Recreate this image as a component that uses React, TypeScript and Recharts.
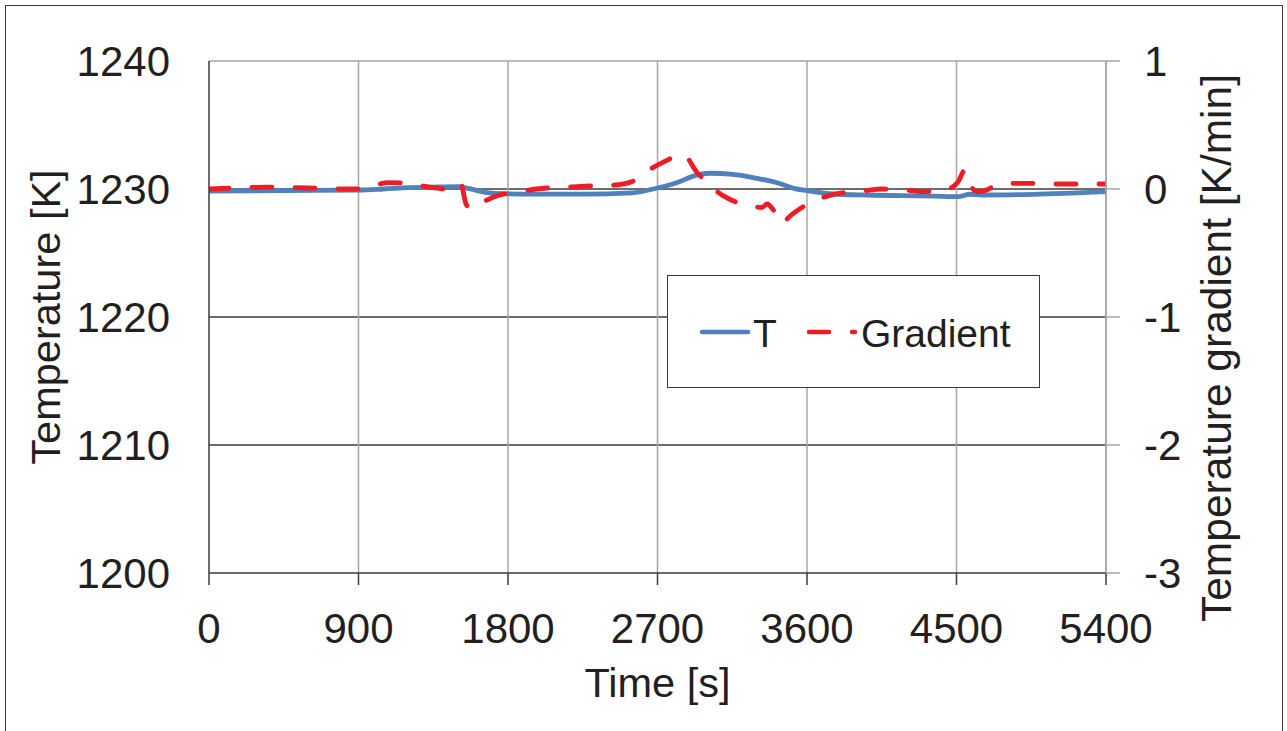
import { LineChart, Line, XAxis, YAxis, CartesianGrid, Legend, Label, ReferenceLine } from 'recharts';

// Temperature history (s, K)
const tempTime = [0, 450, 900, 1050, 1200, 1350, 1500, 1560, 1640, 1720, 1950, 2250, 2550, 2680, 2815, 2935, 3015, 3155, 3300, 3420, 3520, 3600, 3760, 3960, 4360, 4510, 4580, 4660, 4960, 5400];
const tempValues = [1229.84, 1229.88, 1229.92, 1230.0, 1230.1, 1230.15, 1230.18, 1230.05, 1229.8, 1229.66, 1229.6, 1229.6, 1229.7, 1230.02, 1230.49, 1231.09, 1231.23, 1231.15, 1230.83, 1230.49, 1230.05, 1229.87, 1229.61, 1229.53, 1229.45, 1229.4, 1229.59, 1229.53, 1229.58, 1229.79];

// Temperature gradient (s, K/min)
const gradTime = [0, 200, 350, 450, 600, 750, 880, 980, 1080, 1200, 1310, 1430, 1480, 1515, 1550, 1590, 1640, 1750, 1840, 1970, 2215, 2330, 2435, 2545, 2625, 2735, 2855, 2935, 3005, 3105, 3210, 3330, 3360, 3395, 3440, 3510, 3620, 3710, 3830, 3930, 4050, 4190, 4320, 4420, 4510, 4550, 4595, 4630, 4670, 4760, 4870, 5000, 5100, 5400];
const gradValues = [0, 0.01, 0.015, 0.013, 0.008, 0.002, 0, 0.023, 0.05, 0.045, 0.018, 0, 0.01, 0.045, -0.125, -0.156, -0.11, -0.047, -0.029, 0, 0.018, 0.026, 0.031, 0.057, 0.13, 0.21, 0.27, 0.135, 0.04, -0.06, -0.117, -0.143, -0.117, -0.159, -0.268, -0.198, -0.107, -0.06, -0.026, -0.016, 0, -0.008, -0.021, -0.013, 0.057, 0.148, 0.005, -0.021, -0.013, 0.039, 0.044, 0.044, 0.039, 0.039];

const timeTicks = [0, 900, 1800, 2700, 3600, 4500, 5400];
const tempTicks = [1200, 1210, 1220, 1230, 1240];
const gradTicks = [-3, -2, -1, 0, 1];

const tempData = tempTime.map((t, i) => ({ t, T: tempValues[i] }));
const gradData = gradTime.map((t, i) => ({ t, G: gradValues[i] }));

const FONT = '"Liberation Sans", Arial, sans-serif';
const INK = '#231f20';
const BLUE = '#4f81bd';
const RED = '#ee1c25';

const LeftTitle = (props: any) => {
  const vb = props.viewBox;
  const x = vb.x + 45;
  const y = vb.y + vb.height / 2;
  return (
    <text x={x} y={y} transform={`rotate(-90 ${x} ${y})`} textAnchor="middle" dominantBaseline="central"
      fontFamily={FONT} fontSize={41.5} fill={INK}>Temperature [K]</text>
  );
};

const RightTitle = (props: any) => {
  const vb = props.viewBox;
  const x = vb.x + 110;
  const y = vb.y + vb.height / 2 + 31;
  return (
    <text x={x} y={y} transform={`rotate(-90 ${x} ${y})`} textAnchor="middle" dominantBaseline="central"
      fontFamily={FONT} fontSize={42.5} fill={INK}>Temperature gradient [K/min]</text>
  );
};

const BottomTitle = (props: any) => {
  const vb = props.viewBox;
  return (
    <text x={vb.x + vb.width / 2} y={vb.y + 124} textAnchor="middle"
      fontFamily={FONT} fontSize={41.5} fill={INK}>Time [s]</text>
  );
};

const LegendBox = () => (
  <div style={{ width: 373, height: 113, border: '1.5px solid #3a3a3a', boxSizing: 'border-box', background: '#fff' }}>
    <svg width={370} height={110} style={{ display: 'block' }}>
      <line x1={34} y1={56} x2={80} y2={56} stroke={BLUE} strokeWidth={4.5} strokeLinecap="round" />
      <text x={85} y={71} fontFamily={FONT} fontSize={39} fill={INK}>T</text>
      <line x1={141} y1={56} x2={187} y2={56} stroke={RED} strokeWidth={4.5} strokeLinecap="round" strokeDasharray="20 23" />
      <text x={193} y={71} fontFamily={FONT} fontSize={39} fill={INK}>Gradient</text>
    </svg>
  </div>
);

export default function App() {
  return (
    <div style={{ position: 'fixed', left: 0, top: 0, width: 1287, height: 731, background: '#fff', overflow: 'hidden' }}>
      <div style={{ position: 'absolute', left: 5, top: 5, width: 1278, height: 760, border: '1.5px solid #3a3a3a', boxSizing: 'border-box' }} />
      <div style={{ position: 'absolute', left: 0, top: 0 }}>
        <LineChart width={1287} height={731} margin={{ top: 61, right: 0, bottom: 0, left: 0 }}>
          <CartesianGrid yAxisId="T" xAxisId="x" vertical={false} stroke="#3c3c3c" strokeWidth={1.3}
            horizontalValues={[1210, 1220, 1230]} />
          <CartesianGrid yAxisId="T" xAxisId="x" horizontal={false} stroke="#a6a6a6" strokeWidth={1.5}
            verticalValues={[900, 1800, 2700, 3600, 4500, 5400]} />
          <ReferenceLine yAxisId="T" xAxisId="x" y={1240} stroke="#a6a6a6" strokeWidth={1.5} />
          <XAxis xAxisId="x" dataKey="t" type="number" domain={[0, 5400]} ticks={timeTicks} allowDataOverflow
            height={158} tickSize={12} tickMargin={28}
            axisLine={{ stroke: '#3a3a3a', strokeWidth: 1.5 }} tickLine={{ stroke: '#3a3a3a', strokeWidth: 1.5 }}
            tick={{ fontSize: 42, fill: INK, fontFamily: FONT }}>
            <Label content={BottomTitle} />
          </XAxis>
          <YAxis yAxisId="T" orientation="left" type="number" domain={[1200, 1240]} ticks={tempTicks} allowDataOverflow
            width={209} tickSize={0} tickMargin={39} tickLine={false}
            axisLine={{ stroke: '#3a3a3a', strokeWidth: 1.5 }}
            tick={{ fontSize: 42, fill: INK, fontFamily: FONT }}>
            <Label content={LeftTitle} />
          </YAxis>
          <YAxis yAxisId="G" orientation="right" type="number" domain={[-3, 1]} ticks={gradTicks} allowDataOverflow
            width={181} tickSize={14} tickMargin={24}
            axisLine={{ stroke: '#a6a6a6', strokeWidth: 1.5 }} tickLine={{ stroke: '#a6a6a6', strokeWidth: 1.5 }}
            tick={{ fontSize: 42, fill: INK, fontFamily: FONT }}>
            <Label content={RightTitle} />
          </YAxis>
          <Line xAxisId="x" yAxisId="T" data={tempData} dataKey="T" name="T" type="monotone" stroke={BLUE}
            strokeWidth={4.8} dot={false} activeDot={false} isAnimationActive={false} />
          <Line xAxisId="x" yAxisId="G" data={gradData} dataKey="G" name="Gradient" type="monotone" stroke={RED}
            strokeWidth={4.8} strokeDasharray="20 23" strokeLinecap="round" dot={false} activeDot={false}
            isAnimationActive={false} />
          <Legend layout="vertical" align="center" verticalAlign="middle" content={LegendBox}
            wrapperStyle={{ position: 'absolute', left: 667, top: 275, width: 373, height: 113 }} />
        </LineChart>
      </div>
    </div>
  );
}
